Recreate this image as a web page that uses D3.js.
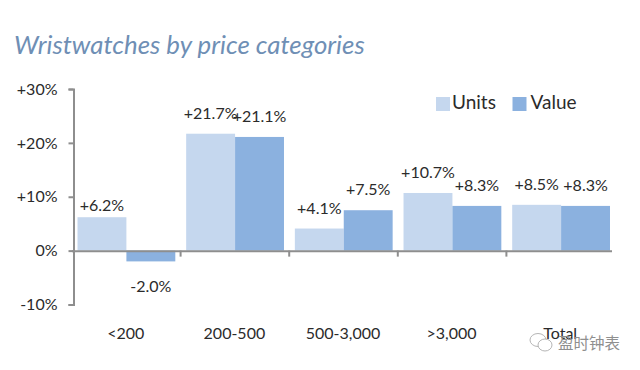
<!DOCTYPE html>
<html>
<head>
<meta charset="utf-8">
<script src="https://cdn.jsdelivr.net/npm/d3@7"></script>
<style>
  html, body { margin: 0; padding: 0; background: #fff; }
  svg { display: block; }
  text { font-family: Lato, "Open Sans", sans-serif; fill: #2b2b2b; }
</style>
</head>
<body>
<div id="chart"></div>
<script>
// Data
const categories = ['<200', '200-500', '500-3,000', '>3,000', 'Total'];
const seriesNames = ['Units', 'Value'];
const unitsValues = [6.2, 21.7, 4.1, 10.7, 8.5];
const valueValues = [-2.0, 21.1, 7.5, 8.3, 8.3];
const yTicks = [-10, 0, 10, 20, 30];

const colors = ['#c5d7ee', '#8bb1df'];
const signed = d => (d > 0 ? '+' : '') + d + '%';

const width = 640;
const height = 370;

const svg = d3.select('#chart')
  .append('svg')
    .attr('width', width)
    .attr('height', height);

// Title
svg.append('text')
    .attr('x', 14)
    .attr('y', 54)
    .attr('font-size', 25.8)
    .attr('font-style', 'italic')
    .style('fill', '#6f8fb5')
    .text('Wristwatches by price categories');

// Scales
const yScale = d3.scaleLinear()
  .domain([-10, 30])
  .range([304.5, 89]);
const xScale = d3.scaleBand()
  .domain(categories)
  .range([77.5, 610])
  .paddingInner(0.1);
const seriesScale = d3.scaleBand()
  .domain(seriesNames)
  .range([0, xScale.bandwidth()]);
const boundaryScale = d3.scaleLinear()
  .domain([0, 5])
  .range([71.5, 614.5]);

// Bars
const rows = categories.map((c, i) => ({category: c, values: [unitsValues[i], valueValues[i]]}));
const barGroups = svg.append('g')
  .selectAll('g')
  .data(rows)
  .join('g')
    .attr('transform', d => `translate(${xScale(d.category)},0)`);
barGroups.selectAll('rect')
  .data(d => d.values.map((v, i) => ({name: seriesNames[i], value: v})))
  .join('rect')
    .attr('x', d => seriesScale(d.name))
    .attr('y', d => yScale(Math.max(0, d.value)))
    .attr('width', seriesScale.bandwidth())
    .attr('height', d => Math.abs(yScale(d.value) - yScale(0)))
    .attr('fill', (d, i) => colors[i]);

// Data labels: the original sits them by hand, most 15px over the bar
barGroups.selectAll('text')
  .data(d => d.values.map((v, i) => ({name: seriesNames[i], value: v, category: d.category})))
  .join('text')
    .attr('x', d => seriesScale(d.name) + seriesScale.bandwidth() / 2)
    .attr('y', d => {
      if (d.value < 0) return yScale(d.value) + 31;
      if (d.category === '<200') return yScale(d.value) - 6;
      return yScale(d.value) - 15;
    })
    .attr('text-anchor', 'middle')
    .attr('font-size', 16)
    .text(d => d.value.toFixed(1).replace(/^(?=\d)/, '+') + '%');

// Y axis
const yAxis = svg.append('g')
    .attr('transform', 'translate(73.5,0)')
    .call(d3.axisLeft(yScale).tickValues(yTicks).tickSize(5).tickPadding(11).tickFormat(signed));
yAxis.selectAll('text').attr('font-size', 16).style('font-family', 'Lato');

// X axis: ticks sit on the category boundaries, the line stops a little short
const xAxis = svg.append('g')
    .attr('transform', `translate(0,${yScale(0)})`)
    .call(d3.axisBottom(boundaryScale).tickValues([1, 2, 3, 4]).tickSize(6).tickSizeOuter(0).tickFormat(''));
xAxis.select('.domain').attr('d', `M72,0.5H612`);

svg.selectAll('.domain, .tick line')
    .attr('stroke', '#8e8e8e')
    .attr('stroke-width', 2);

// Category labels
svg.append('g')
  .selectAll('text')
  .data(categories)
  .join('text')
    .attr('x', (d, i) => (boundaryScale(i) + boundaryScale(i + 1)) / 2)
    .attr('y', 339)
    .attr('text-anchor', 'middle')
    .attr('font-size', 16)
    .text(d => d);

// Legend
const legend = svg.append('g')
  .selectAll('g')
  .data(seriesNames)
  .join('g')
    .attr('transform', (d, i) => `translate(${436 + i * 76.5},97)`);
legend.append('rect')
    .attr('width', 14)
    .attr('height', 14)
    .attr('fill', (d, i) => colors[i]);
legend.append('text')
    .attr('x', (d, i) => 16 + i * 2)
    .attr('y', 12)
    .attr('font-size', 19)
    .text(d => d);

// Watermark
const mark = svg.append('g')
    .attr('fill', 'none')
    .attr('stroke', '#b5b5b5')
    .attr('stroke-width', 1);
mark.append('ellipse').attr('cx', 538).attr('cy', 340).attr('rx', 8).attr('ry', 6.5);
mark.append('ellipse').attr('cx', 545).attr('cy', 345).attr('rx', 7).attr('ry', 6).attr('fill', '#fff');
svg.append('text')
    .attr('x', 558)
    .attr('y', 349)
    .attr('font-size', 15.5)
    .style('font-family', '"Noto Sans CJK SC"')
    .style('fill', '#8f8f8f')
    .text('盈时钟表');
</script>
</body>
</html>
